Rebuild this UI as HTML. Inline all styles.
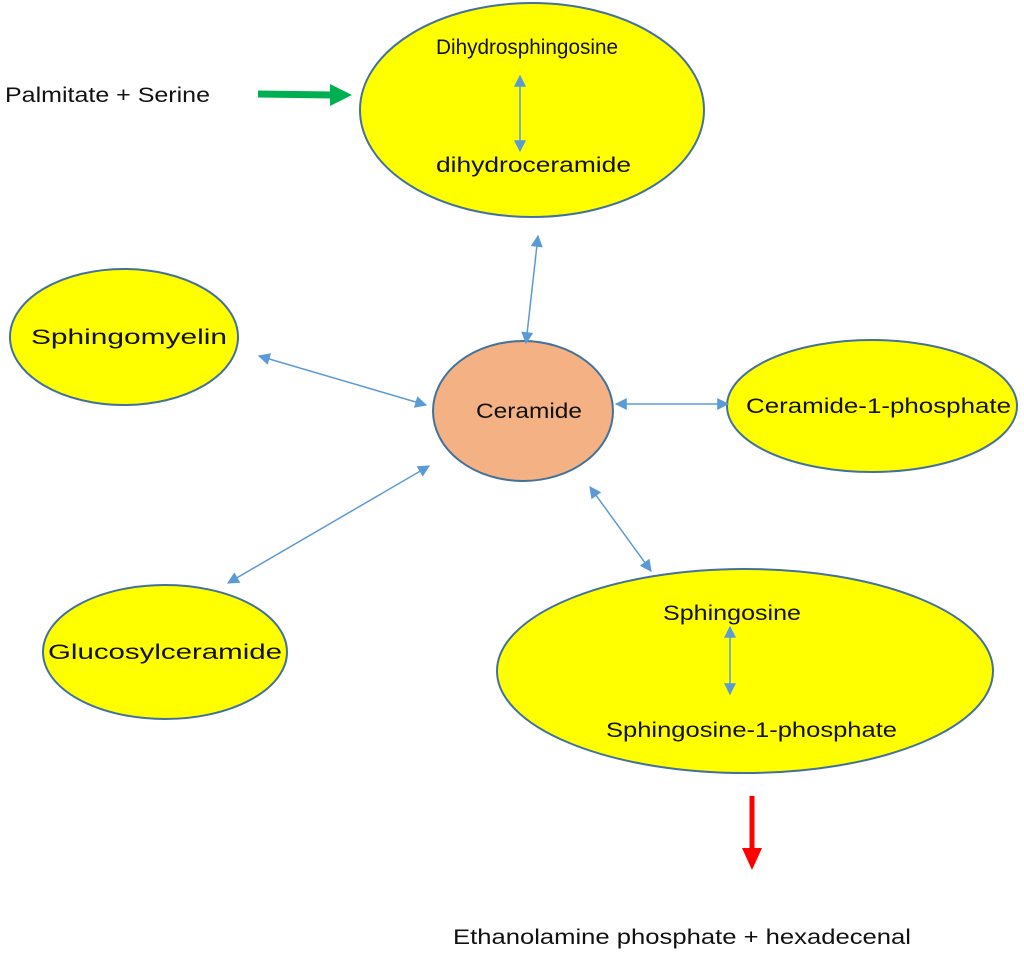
<!DOCTYPE html>
<html><head><meta charset="utf-8"><style>
html,body{margin:0;padding:0;background:#fff;width:1024px;height:955px;overflow:hidden}
svg text{font-family:"Liberation Sans",sans-serif;font-size:21px;fill:#111}
</style></head><body>
<svg width="1024" height="955" viewBox="0 0 1024 955" xmlns="http://www.w3.org/2000/svg">
<defs>
<marker id="b" viewBox="0 0 10 10" refX="9" refY="5" markerWidth="13" markerHeight="12" markerUnits="userSpaceOnUse" orient="auto-start-reverse"><path d="M0,0 L10,5 L0,10 z" fill="#5b9bd5"/></marker>
</defs>
<g stroke="#41719c" stroke-width="2" fill="#ffff00">
<ellipse cx="532" cy="110" rx="172" ry="107"/>
<ellipse cx="124" cy="337" rx="114" ry="68"/>
<ellipse cx="872" cy="406" rx="145" ry="66"/>
<ellipse cx="165" cy="652" rx="122" ry="67"/>
<ellipse cx="745" cy="671" rx="248" ry="102"/>
<ellipse cx="523" cy="411" rx="90" ry="70" fill="#f4b183"/>
</g>
<g stroke="#5b9bd5" stroke-width="1.5" marker-start="url(#b)" marker-end="url(#b)">
<line x1="538" y1="236" x2="526" y2="343"/>
<line x1="259" y1="356" x2="426" y2="405"/>
<line x1="616" y1="404" x2="728" y2="404"/>
<line x1="429" y1="466" x2="228" y2="583"/>
<line x1="590" y1="487" x2="651" y2="571"/>
<line x1="520" y1="76" x2="520" y2="151"/>
<line x1="730" y1="627" x2="730" y2="694"/>
</g>
<line x1="258" y1="94" x2="332" y2="95" stroke="#00b050" stroke-width="7"/>
<path d="M330,84 L352,95 L330,106 z" fill="#00b050"/>
<line x1="752" y1="796" x2="752" y2="850" stroke="#ff0000" stroke-width="5"/>
<path d="M742,848 L752,870 L762,848 z" fill="#ff0000"/>
<text x="5" y="102" textLength="205" lengthAdjust="spacingAndGlyphs">Palmitate + Serine</text>
<text x="436" y="54" textLength="182" lengthAdjust="spacingAndGlyphs">Dihydrosphingosine</text>
<text x="436" y="172" textLength="195" lengthAdjust="spacingAndGlyphs">dihydroceramide</text>
<text x="31" y="344" textLength="196" lengthAdjust="spacingAndGlyphs">Sphingomyelin</text>
<text x="476" y="418" textLength="106" lengthAdjust="spacingAndGlyphs">Ceramide</text>
<text x="746" y="413" textLength="265" lengthAdjust="spacingAndGlyphs">Ceramide-1-phosphate</text>
<text x="48" y="659" textLength="234" lengthAdjust="spacingAndGlyphs">Glucosylceramide</text>
<text x="663" y="620" textLength="138" lengthAdjust="spacingAndGlyphs">Sphingosine</text>
<text x="606" y="737" textLength="291" lengthAdjust="spacingAndGlyphs">Sphingosine-1-phosphate</text>
<text x="453" y="944" textLength="458" lengthAdjust="spacingAndGlyphs">Ethanolamine phosphate + hexadecenal</text>
</svg>
</body></html>
